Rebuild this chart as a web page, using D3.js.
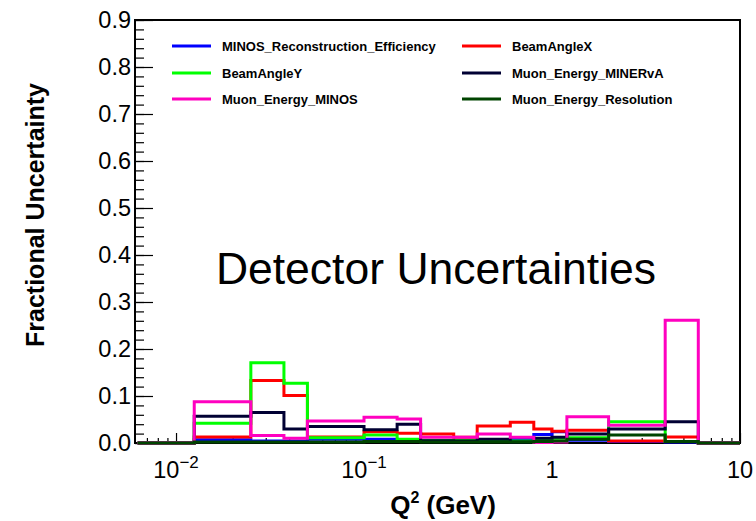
<!DOCTYPE html>
<html>
<head>
<meta charset="utf-8">
<script src="https://cdn.jsdelivr.net/npm/d3@7"></script>
<style>
  html, body { margin: 0; padding: 0; background: #fff; }
  svg { display: block; }
  text { font-family: "Liberation Sans", Arial, Helvetica, sans-serif; }
</style>
</head>
<body>
<svg id="chart" width="756" height="521"></svg>
<script>
// Q^2 bin edges (GeV^2)
const binEdges = [0.00625, 0.0125, 0.025, 0.0375, 0.05, 0.1, 0.15, 0.2, 0.3, 0.4,
                  0.6, 0.8, 1.0, 1.2, 2.0, 4.0, 6.0, 8.0, 10.0];

// Fractional uncertainty per bin for each detector systematic
const minosRecoEff   = [0, 0.007, 0.004, 0.004, 0.008, 0.008, 0.006, 0.004, 0.004, 0.005, 0.008, 0.018, 0.024, 0.006, 0.003, 0.002, 0, 0];
const beamAngleX     = [0, 0.013, 0.133, 0.101, 0.013, 0.024, 0.021, 0.019, 0.012, 0.036, 0.044, 0.030, 0.025, 0.027, 0.004, 0.013, 0, 0];
const beamAngleY     = [0, 0.042, 0.171, 0.127, 0.011, 0.017, 0.008, 0.006, 0.006, 0.006, 0.004, 0.008, 0.010, 0.011, 0.045, 0.003, 0, 0];
const muonEMinerva   = [0, 0.057, 0.065, 0.030, 0.035, 0.028, 0.040, 0.005, 0.004, 0.008, 0.002, 0.010, 0.012, 0.019, 0.030, 0.045, 0, 0];
const muonEMinos     = [0, 0.088, 0.016, 0.010, 0.047, 0.055, 0.051, 0.012, 0.012, 0.019, 0.012, 0.001, 0.002, 0.056, 0.038, 0.261, 0, 0];
const muonEResol     = [0, 0.002, 0.002, 0.002, 0.002, 0.003, 0.003, 0.002, 0.002, 0.002, 0.002, 0.003, 0.004, 0.008, 0.017, 0.003, 0, 0];

const seriesNames  = ["MINOS_Reconstruction_Efficiency", "BeamAngleX", "BeamAngleY",
                      "Muon_Energy_MINERvA", "Muon_Energy_MINOS", "Muon_Energy_Resolution"];
const seriesValues = [minosRecoEff, beamAngleX, beamAngleY, muonEMinerva, muonEMinos, muonEResol];
const seriesColors = ["#0000ff", "#ff0000", "#00ff00", "#000033", "#ff00c0", "#004400"];

const yMajorTicks = [0, 0.1, 0.2, 0.3, 0.4, 0.5, 0.6, 0.7, 0.8, 0.9];
const xDecadeTicks = [0.01, 0.1, 1, 10];
const xDecadeLabels = [["10", "\u22122"], ["10", "\u22121"], ["1", null], ["10", null]];

const title = "Detector Uncertainties";
const xTitle = "Q";
const yTitle = "Fractional Uncertainty";

// ---- layout ----
const frame = { left: 135, right: 740, top: 20, bottom: 443 };
const svg = d3.select("#chart");

const x = d3.scaleLog().domain([0.00605, 10]).range([frame.left, frame.right]);
const y = d3.scaleLinear().domain([0, 0.9]).range([frame.bottom, frame.top]);

// frame
svg.append("rect")
  .attr("x", frame.left).attr("y", frame.top)
  .attr("width", frame.right - frame.left).attr("height", frame.bottom - frame.top)
  .attr("fill", "none").attr("stroke", "#000").attr("stroke-width", 2);

// y axis: major ticks with labels, minor ticks every 0.02
const yMinor = d3.range(0, 0.9001, 0.02).map(v => +v.toFixed(2));
const gyMinor = svg.append("g").attr("transform", `translate(${frame.left},0)`)
  .call(d3.axisLeft(y).tickValues(yMinor).tickSize(-9).tickFormat(""));
const gy = svg.append("g").attr("transform", `translate(${frame.left},0)`)
  .call(d3.axisLeft(y).tickValues(yMajorTicks).tickSize(-18).tickPadding(4)
        .tickFormat(d3.format(".1f")));
[gy, gyMinor].forEach(g => {
  g.select(".domain").remove();
  g.selectAll("line").attr("stroke", "#000").attr("stroke-width", 1.2);
});
gy.selectAll("text")
  .attr("font-size", 23.5).attr("fill", "#000")
  .attr("font-family", "Liberation Sans, Arial, sans-serif");

// x axis: log ticks, decades longer
const xMinor = [];
[0.001, 0.01, 0.1, 1].forEach(d => {
  for (let k = 2; k <= 9; k++) {
    const v = d * k;
    if (v >= x.domain()[0] && v <= 10) xMinor.push(v);
  }
});
const gxMinor = svg.append("g").attr("transform", `translate(0,${frame.bottom})`)
  .call(d3.axisBottom(x).tickValues(xMinor).tickSize(-5).tickFormat(""));
const gx = svg.append("g").attr("transform", `translate(0,${frame.bottom})`)
  .call(d3.axisBottom(x).tickValues(xDecadeTicks).tickSize(-10).tickFormat(""));
[gx, gxMinor].forEach(g => {
  g.select(".domain").remove();
  g.selectAll("line").attr("stroke", "#000").attr("stroke-width", 1.2);
});

// decade labels with superscript exponents
xDecadeTicks.forEach((v, i) => {
  const [base, exp] = xDecadeLabels[i];
  const t = svg.append("text")
    .attr("x", x(v)).attr("y", 478)
    .attr("text-anchor", "middle")
    .attr("font-size", 23.5).attr("fill", "#000");
  t.append("tspan").text(base);
  if (exp) {
    t.append("tspan").attr("dy", -10).attr("font-size", 17).text(exp);
  }
});

// histogram outlines (step lines)
const stepLine = d3.line().x(p => x(p[0])).y(p => y(p[1]));
function stepPoints(vals) {
  const pts = [[binEdges[0], 0]];
  vals.forEach((v, i) => {
    pts.push([binEdges[i], v]);
    pts.push([binEdges[i + 1], v]);
  });
  pts.push([binEdges[binEdges.length - 1], 0]);
  return pts;
}
const hist = svg.append("g");
seriesValues.forEach((vals, i) => {
  hist.append("path")
    .attr("d", stepLine(stepPoints(vals)))
    .attr("fill", "none")
    .attr("stroke", seriesColors[i])
    .attr("stroke-width", 3)
    .attr("stroke-linejoin", "miter");
});

// legend: two columns, three rows
const legendCols = [172, 462];
const legendRows = [46, 73, 99];
seriesNames.forEach((name, i) => {
  const cx = legendCols[i % 2];
  const cy = legendRows[Math.floor(i / 2)];
  svg.append("line")
    .attr("x1", cx).attr("x2", cx + 39)
    .attr("y1", cy).attr("y2", cy)
    .attr("stroke", seriesColors[i]).attr("stroke-width", 3);
  svg.append("text")
    .attr("x", cx + 50).attr("y", cy + 5)
    .attr("font-size", 13).attr("font-weight", "bold").attr("fill", "#000")
    .text(name);
});

// in-plot title
svg.append("text")
  .attr("x", 436).attr("y", 284)
  .attr("text-anchor", "middle")
  .attr("font-family", "Lato, 'Open Sans', sans-serif")
  .attr("font-size", 44.5).attr("fill", "#000")
  .text(title);

// axis titles
const xt = svg.append("text")
  .attr("x", 443).attr("y", 514)
  .attr("text-anchor", "middle")
  .attr("font-size", 26).attr("font-weight", "bold").attr("fill", "#000");
xt.append("tspan").text(xTitle);
xt.append("tspan").attr("dy", -11).attr("font-size", 16).text("2");
xt.append("tspan").attr("dy", 11).text(" (GeV)");

svg.append("text")
  .attr("transform", "translate(44,215) rotate(-90)")
  .attr("text-anchor", "middle")
  .attr("font-size", 25).attr("font-weight", "bold").attr("fill", "#000")
  .text(yTitle);
</script>
</body>
</html>
